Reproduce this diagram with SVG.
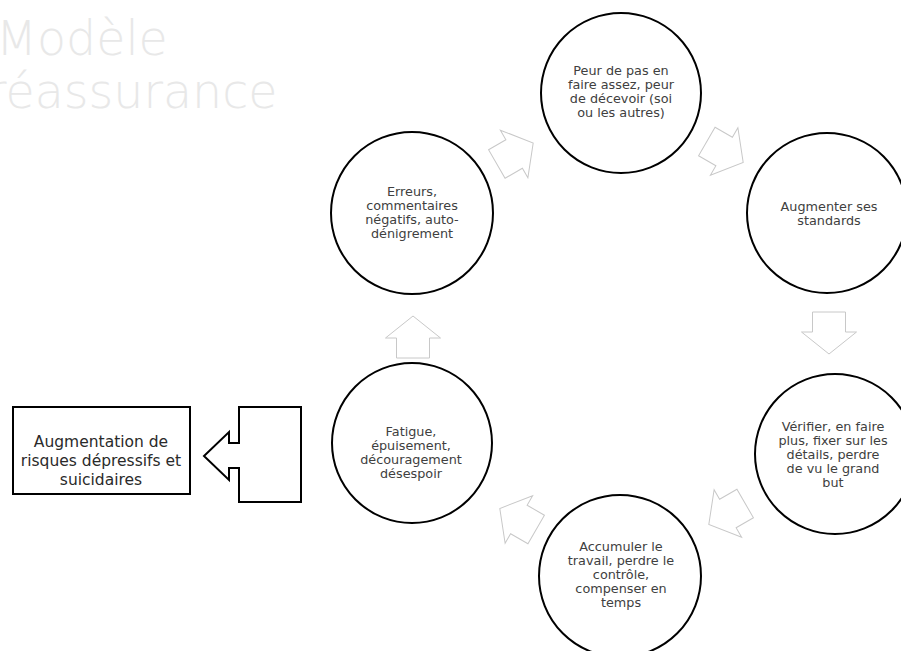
<svg xmlns="http://www.w3.org/2000/svg" width="901" height="651" viewBox="0 0 901 651">
<style>
.title{font-family:"DejaVu Sans","Liberation Sans",sans-serif;font-size:47.5px;font-weight:200;fill:#e8e8e8}
.node circle{fill:#fff;stroke:#000;stroke-width:2}
.node text{font-family:"DejaVu Sans","Liberation Sans",sans-serif;font-size:12.8px;fill:#404040;text-anchor:middle}
.box rect{fill:#fff;stroke:#000;stroke-width:2}
.box text{font-family:"DejaVu Sans","Liberation Sans",sans-serif;font-size:15.5px;fill:#2a2a2a;text-anchor:middle}
.arr{fill:#fff;stroke:#c8c8c8;stroke-width:1}
.big{fill:#fff;stroke:#000;stroke-width:2;stroke-linejoin:miter}
</style>
<defs>
<path id="blk" d="M-21,-16.5 L-1,-16.5 L-1,-27.5 L21,0 L-1,27.5 L-1,16.5 L-21,16.5 Z"/>
</defs>
<rect width="901" height="651" fill="#fff"/>
<text class="title" x="-4" y="55">Modèle</text>
<text class="title" x="-13" y="108">réassurance</text>

<g id="connectors">
<use href="#blk" class="arr" transform="translate(515,153.5) rotate(-30)"/>
<use href="#blk" class="arr" transform="translate(725,152) rotate(30)"/>
<use href="#blk" class="arr" transform="translate(829,333) rotate(90)"/>
<use href="#blk" class="arr" transform="translate(727,514) rotate(150)"/>
<use href="#blk" class="arr" transform="translate(518,519) rotate(210)"/>
<use href="#blk" class="arr" transform="translate(413,337) rotate(-90)"/>
<polygon class="big" points="301,407 239,407 239,443 229,443 229,432 204,456 229,480 229,468 239,468 239,502 301,502"/>
</g>

<g id="n-peur" class="node">
<circle cx="621" cy="93" r="80"/>
<text x="621" y="75">Peur de pas en</text>
<text x="621" y="89">faire assez, peur</text>
<text x="621" y="103">de décevoir (soi</text>
<text x="621" y="117">ou les autres)</text>
</g>

<g id="n-augmenter" class="node">
<circle cx="827" cy="213" r="80"/>
<text x="829" y="211">Augmenter ses</text>
<text x="829" y="224.5">standards</text>
</g>

<g id="n-verifier" class="node">
<circle cx="835" cy="454" r="80"/>
<text x="833" y="431">Vérifier, en faire</text>
<text x="833" y="445">plus, fixer sur les</text>
<text x="833" y="459">détails, perdre</text>
<text x="833" y="473">de vu le grand</text>
<text x="833" y="487">but</text>
</g>

<g id="n-accumuler" class="node">
<circle cx="620" cy="576" r="81"/>
<text x="621" y="551">Accumuler le</text>
<text x="621" y="565">travail, perdre le</text>
<text x="621" y="579">contrôle,</text>
<text x="621" y="593">compenser en</text>
<text x="621" y="607">temps</text>
</g>

<g id="n-fatigue" class="node">
<circle cx="412" cy="443" r="80"/>
<text x="411" y="436">Fatigue,</text>
<text x="411" y="450">épuisement,</text>
<text x="411" y="464">découragement</text>
<text x="411" y="478">désespoir</text>
</g>

<g id="n-erreurs" class="node">
<circle cx="412" cy="213" r="81"/>
<text x="412" y="196">Erreurs,</text>
<text x="412" y="210">commentaires</text>
<text x="412" y="224">négatifs, auto-</text>
<text x="412" y="238">dénigrement</text>
</g>

<g id="n-risques" class="box">
<rect x="13" y="407" width="177" height="87"/>
<text x="101" y="447">Augmentation de</text>
<text x="101" y="466">risques dépressifs et</text>
<text x="101" y="485">suicidaires</text>
</g>
</svg>
